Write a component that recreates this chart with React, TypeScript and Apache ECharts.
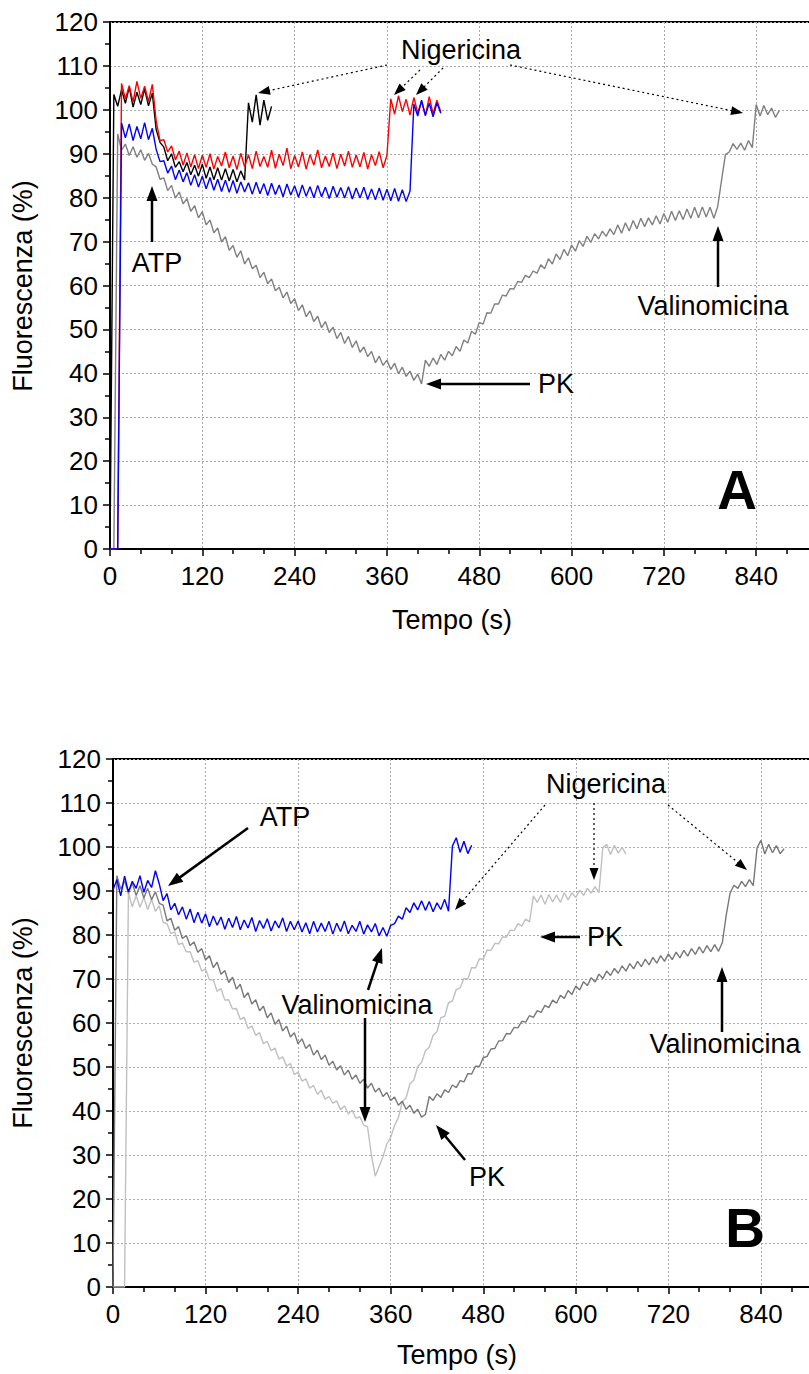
import React, { useEffect, useRef } from "react";
import * as echarts from "echarts";

// sampling step (s) of every trace below; first value is at t = 0
const STEP = 5;

// ---------- Panel A ----------
const aGray = [
  0, 0, 94.5, 90.8, 92.2, 89.6, 91.6, 89.2, 90.9, 88.5, 90.1, 87.6, 87, 84.2, 84.5, 81.6, 82.8, 79.9, 81.3, 78.6,
  79.8, 76.9, 78.2, 75.4, 76.8, 73.8, 74.9, 72, 73.1, 69.9, 71.1, 68, 69.1, 66.4, 67.9, 64.9, 66.3, 63.8, 64.6, 61.8,
  63, 60.4, 61.5, 58.8, 59.6, 57.2, 58.5, 55.9, 57, 54.3, 55.6, 52.9, 54.2, 51.8, 53, 50.4, 51.8, 49.3, 50.5, 47.9,
  49.3, 46.8, 48.4, 45.9, 47.4, 44.8, 46, 43.8, 45, 42.4, 43.9, 41.8, 43, 40.9, 42.3, 39.9, 41.4, 39.3, 40.5, 38.4,
  39.8, 37.6, 43, 41.6, 43.5, 42, 44.3, 43, 45, 44, 46.1, 45, 47.6, 46.9, 49.6, 48.9, 51.6, 51.2, 53.8, 53.7,
  55.8, 55.8, 57.8, 57.6, 59.3, 59.2, 60.9, 60.7, 62.3, 61.8, 63.3, 62.8, 64.7, 63.8, 66.1, 64.9, 67.2, 65.9, 68.2, 66.8,
  69.2, 67.8, 70.2, 68.9, 71.2, 69.8, 71.8, 70.6, 72.4, 71.2, 72.9, 71.6, 73.8, 71.9, 74.3, 72.4, 74.8, 72.9, 75.3, 73.4,
  75.4, 73.8, 75.9, 74, 76.4, 74.4, 76.9, 74.8, 77, 75, 77.4, 75.3, 77.8, 75.4, 77.9, 75.6, 77.8, 75.3, 78, 84,
  89.8, 90.4, 92.3, 91, 92.4, 90.8, 93, 91.4, 101.2, 98.6, 101, 98.9, 100.4, 98.3, 99.8,
];
const aBlack = [
  0, 103.5, 100.8, 104.6, 101.5, 105.2, 100.6, 104, 101.2, 104.8, 100.9, 103.8, 95.5, 92.6, 91.5, 88.4, 90, 86.9, 88.2, 85.9,
  88, 85.2, 87.4, 84.9, 87.6, 84.4, 87, 84.1, 86.8, 84, 86.6, 83.8, 86.4, 83.6, 86.1, 84, 101.6, 97.2, 103.4, 96.5,
  102.2, 97.6, 100.8,
];
const aRed = [
  0, 0, 0, 106, 102.5, 105.5, 101.8, 106.5, 102.6, 105.4, 101.9, 105.8, 97.5, 93, 93.2, 90.4, 91.8, 88.6, 90.6, 87.4,
  90.2, 87, 89.8, 86.6, 89.7, 86.9, 90, 86.5, 89.4, 87.2, 90.4, 86.8, 89.5, 86.4, 90.1, 87, 89.8, 86.6, 90.6, 87.1,
  89.4, 86.9, 90.8, 86.7, 89.9, 87.3, 91.3, 86.6, 89.6, 87, 90.4, 86.5, 89.8, 87.4, 90.9, 86.8, 89.5, 87.1, 90.2, 86.6,
  89.9, 87.2, 90.6, 86.9, 89.7, 87, 90.3, 86.5, 89.8, 87.3, 90.5, 86.8, 89.6, 102.5, 99, 103.2, 99.6, 102.4, 98.8, 102.8,
  99.3, 101.9, 98.6, 103, 99.1, 102.2, 99.5,
];
const aBlue = [
  0, 0, 0, 97, 93.6, 96.8, 93, 96.2, 93.4, 97.1, 93.2, 95.8, 91, 88.2, 88.4, 85.6, 87.2, 84.1, 86.3, 83.6,
  85.7, 82.8, 85.2, 82.4, 84.9, 82, 84.6, 81.7, 84.2, 81.4, 84, 81.2, 83.9, 81, 83.6, 81.3, 83.4, 80.8, 83.5, 80.9,
  83.2, 80.5, 83.3, 80.7, 82.9, 80.2, 83.1, 80.6, 82.7, 80.1, 82.9, 80.3, 82.5, 80, 82.8, 80.2, 82.4, 79.8, 82.6, 80.1,
  82.3, 79.9, 82.5, 79.7, 82.2, 79.9, 82.4, 79.6, 82, 79.5, 82.2, 79.4, 81.9, 79.3, 82.1, 79.2, 81.8, 79.1, 81.5, 101.3,
  98.6, 102.2, 98.8, 101.5, 98.4, 101.6, 99.2,
];

// ---------- Panel B ----------
const bLight = [
  0, 0, 0, 0, 89.6, 86.4, 88.9, 86.3, 88.6, 85.8, 88.1, 85.4, 86.6, 82.9, 82.6, 80.3, 80.7, 77.8, 78.2, 76.2,
  76.2, 73.8, 74.2, 71.8, 72.3, 69.8, 69.8, 67.2, 67.8, 65.2, 65.3, 63.2, 63.3, 60.8, 61.3, 58.8, 59.3, 57.2, 57.8, 55.3,
  55.8, 53.7, 54.3, 51.8, 52.3, 50.2, 50.8, 48.3, 48.8, 46.8, 47.3, 45.2, 45.8, 43.8, 44.7, 42.7, 43.3, 41.8, 42.3, 40.3,
  41.2, 39.3, 40.2, 38.3, 38.7, 36.8, 36.4, 30, 25.2, 27.4, 29.6, 32.5, 34, 36.7, 38.5, 42.1, 43, 46.2, 47, 50.1,
  51, 53.7, 54.5, 57.2, 58, 61.2, 61.5, 64.6, 65, 67.6, 68, 70.1, 70, 72.6, 72.5, 74.6, 74.5, 76.6, 76.5, 78.1,
  78, 79.6, 79.5, 81.1, 81, 82.6, 82, 83.6, 83, 88.9, 87.4, 89.1, 87, 89.2, 87.5, 89.1, 87.4, 89.6, 88, 89.6,
  88.5, 90.2, 89, 90.6, 89.5, 91, 89.6, 99.8, 100.6, 98.3, 100.4, 98.6, 99.9, 98.4,
];
const bDark = [
  0, 93.5, 90.4, 92.3, 89.5, 91.8, 89, 91.2, 88.4, 90.6, 88, 89.8, 87.2, 86.8, 83.2, 83.8, 81.1, 81.9, 79.2, 79.9,
  77.6, 78.4, 76.1, 76.9, 74.3, 75.3, 72.6, 73.8, 71.1, 71.9, 69.2, 70.4, 67.7, 68.8, 65.8, 66.9, 64.3, 65.3, 62.8, 63.8,
  61.2, 62.3, 59.7, 60.8, 58.2, 59.3, 56.8, 57.8, 55.3, 56.4, 54.2, 55.1, 52.7, 53.8, 51.7, 52.7, 50.4, 51.3, 49.3, 50.3,
  48.2, 49.3, 47.2, 48.2, 46.3, 47.2, 45.2, 46.3, 44.3, 45.2, 43.3, 44.2, 42.4, 43.2, 41.3, 42.2, 40.4, 41.3, 39.5, 40.4,
  38.6, 39.2, 43.3, 42.4, 43.9, 43.1, 44.8, 44.2, 45.9, 45.3, 46.9, 46.6, 48.5, 48.4, 50.2, 50.1, 52.1, 52.4, 54.1, 54.2,
  55.9, 56, 57.6, 57.5, 59, 58.9, 60.4, 60.2, 61.7, 61.3, 62.8, 62.4, 64, 63.5, 65.2, 64.5, 66.3, 65.6, 67.4, 66.5,
  68.4, 67.5, 69.4, 68.5, 70.3, 69.3, 71.1, 70.1, 71.8, 70.8, 72.4, 71.3, 73, 71.8, 73.5, 72.3, 74, 72.8, 74.5, 73.2,
  74.9, 73.6, 75.3, 74, 75.7, 74.4, 76.1, 74.8, 76.5, 75.2, 76.9, 75.6, 77.3, 75.9, 77.6, 76.2, 77.8, 76.3, 78.3, 84.5,
  89.5, 91.3, 90.6, 92.2, 91, 92.6, 91.2, 99.8, 101.5, 98.4, 100.6, 98.7, 100.3, 98.5, 99.6,
];
const bBlue = [
  90.2, 92.6, 88.9, 93.4, 89.8, 92.2, 90.6, 93.5, 89.7, 92.4, 90.8, 94.6, 91.6, 87.8, 89.4, 85.7, 87.2, 84.6, 86.4, 83.6,
  85.9, 82.8, 85.2, 82.7, 84.8, 81.9, 84.3, 82.2, 84.1, 81.3, 83.8, 81.7, 84.2, 81.2, 83.4, 81.6, 84, 80.8, 83.3, 81.5,
  83.7, 80.9, 83.2, 81.6, 83.9, 80.8, 83.1, 81.2, 83.2, 80.7, 82.8, 80.3, 83.1, 80.7, 82.7, 80.8, 83.1, 80.2, 82.7, 80.8,
  83.2, 80.3, 82.2, 80.8, 83.1, 80.2, 82.3, 80.7, 82.6, 79.8, 81.7, 79.7, 82.2, 82.6, 84.3, 83.6, 86.2, 85.1, 87.3, 85.7,
  87.8, 85.6, 87.6, 85.3, 87.3, 85.8, 88.1, 85.4, 100.2, 102.1, 98.8, 101.3, 98.5, 100.4,
];

// axis ticks
const X_MAX = 960;
const X_INTERVAL = 120;
const X_LAST_LABEL = 840;
const Y_MAX = 120;
const Y_INTERVAL = 10;

const FONT = '"Liberation Sans", Arial, Helvetica, sans-serif';

const pairs = (vals: number[]) => vals.map((v, i) => [i * STEP, v]);

function arrow(x1: number, y1: number, x2: number, y2: number, dotted = false): any[] {
  const hl = dotted ? 12 : 15;
  const hw = dotted ? 4.5 : 5.5;
  const dx = x2 - x1, dy = y2 - y1;
  const L = Math.hypot(dx, dy);
  const ux = dx / L, uy = dy / L;
  const bx = x2 - ux * hl, by = y2 - uy * hl;
  const px = -uy, py = ux;
  return [
    {
      type: "line",
      z: 100,
      shape: { x1, y1, x2: bx + ux * 2, y2: by + uy * 2 },
      style: { stroke: "#000", lineWidth: dotted ? 1.2 : 2.5, lineDash: dotted ? [2, 3] : null },
    },
    {
      type: "polygon",
      z: 100,
      shape: { points: [[x2, y2], [bx + px * hw, by + py * hw], [bx - px * hw, by - py * hw]] },
      style: { fill: "#000" },
    },
  ];
}

function label(text: string, x: number, y: number, size = 27, bold = false, rotation = 0): any {
  return {
    type: "text",
    z: 100,
    x,
    y,
    rotation,
    style: {
      text,
      fill: "#000",
      fontSize: size,
      fontFamily: FONT,
      fontWeight: bold ? "bold" : "normal",
      align: "center",
      verticalAlign: "middle",
    },
  };
}

function xAxisCfg(gridIndex: number): any {
  return {
    type: "value",
    gridIndex,
    min: 0,
    max: X_MAX,
    interval: X_INTERVAL,
    axisLine: { show: true, onZero: false, lineStyle: { color: "#000", width: 2 } },
    axisTick: { show: true, length: 7, lineStyle: { color: "#000", width: 1.5 } },
    minorTick: { show: true, splitNumber: 3, length: 5, lineStyle: { color: "#000", width: 1.5 } },
    axisLabel: {
      color: "#000",
      fontSize: 26,
      fontFamily: FONT,
      margin: 14,
      hideOverlap: false,
      formatter: (v: number) => (v > X_LAST_LABEL ? "" : String(v)),
    },
    splitLine: { show: true, lineStyle: { color: "#aaa", width: 1, type: [2, 2] } },
    minorSplitLine: { show: false },
  };
}

function yAxisCfg(gridIndex: number): any {
  return {
    type: "value",
    gridIndex,
    min: 0,
    max: Y_MAX,
    interval: Y_INTERVAL,
    axisLine: { show: true, onZero: false, lineStyle: { color: "#000", width: 2 } },
    axisTick: { show: true, length: 7, lineStyle: { color: "#000", width: 1.5 } },
    minorTick: { show: true, splitNumber: 2, length: 5, lineStyle: { color: "#000", width: 1.5 } },
    axisLabel: { color: "#000", fontSize: 26, fontFamily: FONT, margin: 12, hideOverlap: false },
    splitLine: { show: true, lineStyle: { color: "#aaa", width: 1, type: [2, 2] } },
    minorSplitLine: { show: false },
  };
}

function line(data: number[], color: string, idx: number, z: number, width = 1.4): any {
  return {
    type: "line",
    xAxisIndex: idx,
    yAxisIndex: idx,
    data: pairs(data),
    showSymbol: false,
    symbol: "none",
    z,
    lineStyle: { color, width },
    emphasis: { disabled: true },
  };
}

export default function App() {
  const ref = useRef<HTMLDivElement>(null);
  useEffect(() => {
    if (!ref.current) return;
    const chart = echarts.init(ref.current, null, { renderer: "svg" });
    const graphics: any[] = [
      // axis titles
      label("Tempo (s)", 452, 620, 27),
      label("Tempo (s)", 457, 1355, 27),
      label("Fluorescenza (%)", 23, 286, 27, false, Math.PI / 2),
      label("Fluorescenza (%)", 23, 1023, 27, false, Math.PI / 2),
      // panel A
      label("Nigericina", 461, 50),
      ...arrow(387, 65, 258, 93, true),
      ...arrow(420, 70, 394, 95, true),
      ...arrow(443, 68, 416, 95, true),
      ...arrow(510, 65, 743, 113, true),
      label("ATP", 157, 263),
      ...arrow(152, 242, 152, 186),
      label("PK", 556, 384),
      ...arrow(530, 384, 426, 384),
      label("Valinomicina", 713, 306),
      ...arrow(718, 287, 718, 226),
      label("A", 737, 490, 55, true),
      // panel B
      label("ATP", 285, 817),
      ...arrow(248, 828, 168, 886),
      label("Nigericina", 606, 784),
      ...arrow(545, 805, 455, 910, true),
      ...arrow(594, 803, 594, 880, true),
      ...arrow(668, 805, 747, 870, true),
      label("PK", 605, 937),
      ...arrow(580, 937, 540, 937),
      label("Valinomicina", 357, 1005),
      ...arrow(368, 990, 382, 948),
      ...arrow(365, 1018, 365, 1122),
      label("PK", 487, 1177),
      ...arrow(465, 1160, 436, 1125),
      label("Valinomicina", 725, 1044),
      ...arrow(722, 1032, 722, 967),
      label("B", 745, 1228, 55, true),
    ];
    chart.setOption({
      animation: false,
      backgroundColor: "#fff",
      grid: [
        {
          left: 110, top: 22, width: 738.5, height: 527, outerBoundsMode: "none", containLabel: false,
          show: true, borderColor: "#000", borderWidth: 2, backgroundColor: "transparent",
        },
        {
          left: 113, top: 759, width: 740.5, height: 528, outerBoundsMode: "none", containLabel: false,
          show: true, borderColor: "#000", borderWidth: 2, backgroundColor: "transparent",
        },
      ],
      xAxis: [xAxisCfg(0), xAxisCfg(1)],
      yAxis: [yAxisCfg(0), yAxisCfg(1)],
      series: [
        line(aGray, "#808080", 0, 2),
        line(aBlack, "#000000", 0, 3),
        line(aRed, "#ff0000", 0, 4),
        line(aBlue, "#0000ff", 0, 5),
        line(bLight, "#c0c0c0", 1, 2),
        line(bDark, "#787878", 1, 3),
        line(bBlue, "#0000ff", 1, 4),
      ],
      graphic: graphics,
    });
    return () => chart.dispose();
  }, []);
  return (
    <div
      ref={ref}
      style={{ position: "absolute", left: 0, top: 0, width: 809, height: 1374, background: "#fff" }}
    />
  );
}
